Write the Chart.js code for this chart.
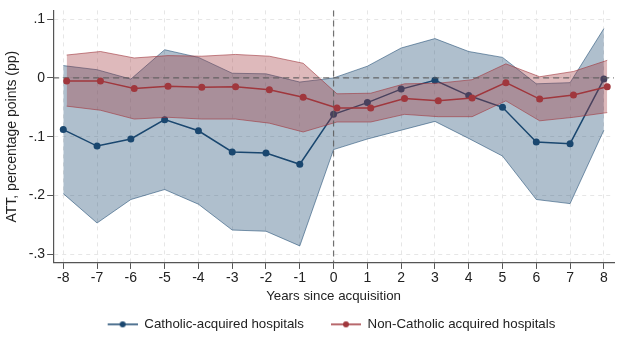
<!DOCTYPE html>
<html>
<head>
<meta charset="utf-8">
<script src="https://cdn.jsdelivr.net/npm/chart.js@4.4.1/dist/chart.umd.min.js"></script>
<style>
  html, body { margin: 0; padding: 0; background: #fff; }
  #wrap { width: 620px; height: 337px; position: relative; }
</style>
</head>
<body>
<div id="wrap"><canvas id="attChart"></canvas></div>
<script>
// years relative to acquisition
const years = [-8, -7, -6, -5, -4, -3, -2, -1, 0, 1, 2, 3, 4, 5, 6, 7, 8];

// Catholic-acquired hospitals
const cathEst  = [-0.088, -0.116, -0.104, -0.071, -0.090, -0.126, -0.128, -0.147, -0.062, -0.042, -0.019, -0.004, -0.030, -0.050, -0.109, -0.112, -0.002];
const cathHigh = [0.021, 0.014, -0.002, 0.048, 0.035, 0.008, 0.007, -0.007, 0.000, 0.020, 0.051, 0.067, 0.045, 0.035, -0.010, -0.008, 0.084];
const cathLow  = [-0.197, -0.247, -0.207, -0.190, -0.215, -0.259, -0.261, -0.286, -0.122, -0.104, -0.089, -0.074, -0.103, -0.133, -0.207, -0.214, -0.089];

// Non-Catholic acquired hospitals
const nonEst  = [-0.005, -0.005, -0.018, -0.014, -0.016, -0.015, -0.020, -0.033, -0.051, -0.051, -0.035, -0.039, -0.034, -0.008, -0.036, -0.029, -0.015];
const nonHigh = [0.039, 0.045, 0.034, 0.038, 0.037, 0.040, 0.037, 0.025, -0.027, -0.026, -0.010, -0.009, -0.003, 0.024, 0.002, 0.011, 0.030];
const nonLow  = [-0.048, -0.055, -0.070, -0.067, -0.070, -0.070, -0.077, -0.092, -0.075, -0.075, -0.062, -0.066, -0.066, -0.039, -0.073, -0.067, -0.059];

// axis ticks
const xTicks = [-8, -7, -6, -5, -4, -3, -2, -1, 0, 1, 2, 3, 4, 5, 6, 7, 8];
const yTicks = [-0.3, -0.2, -0.1, 0, 0.1];
const yTickLabels = ['-.3', '-.2', '-.1', '0', '.1'];

const NAVY = '#1a476f';
const MAROON = '#a0373d';
const RED_SHIFT = 0.1; // non-Catholic series is nudged right a bit

const pts = (vals, shift) => vals.map((v, i) => ({ x: years[i] + shift, y: v }));

// small line+dot sample for the legend (blank lead-in acts as item gap)
function legendSymbol(color) {
    const c = document.createElement('canvas');
    c.width = 51; c.height = 10;
    const g = c.getContext('2d');
    g.strokeStyle = color; g.lineWidth = 1.5;
    g.beginPath(); g.moveTo(21, 5); g.lineTo(51, 5); g.stroke();
    g.fillStyle = color;
    g.beginPath(); g.arc(36, 5, 3, 0, Math.PI * 2); g.fill();
    return c;
}

// dashed reference lines at x=0 and y=0
const refLines = {
    id: 'refLines',
    beforeDatasetDraw(chart, args) {
        if (args.index !== 3) return;
        const { ctx, chartArea, scales } = chart;
        const y0 = scales.y.getPixelForValue(0);
        const x0 = scales.x.getPixelForValue(0);
        ctx.save();
        ctx.strokeStyle = 'rgba(90,90,90,0.85)';
        ctx.lineWidth = 1.2;
        ctx.setLineDash([6, 4]);
        ctx.beginPath();
        ctx.moveTo(chartArea.left, y0); ctx.lineTo(chartArea.right, y0);
        ctx.moveTo(x0, chartArea.top); ctx.lineTo(x0, chartArea.bottom);
        ctx.stroke();
        ctx.restore();
    }
};

// legend sits a little right of centre and closer to the bottom edge in the original
const legendNudge = {
    id: 'legendNudge',
    afterLayout(chart) {
        const lg = chart.legend;
        if (!lg) return;
        lg.left += 12; lg.right += 12;
        lg.top += 7; lg.bottom += 7;
    }
};

const gridOpts = {
    color: '#e6e6e6', tickLength: 6,
    tickColor: '#555', tickBorderDash: []
};

const ctx = document.getElementById('attChart').getContext('2d');
new Chart(ctx, {
    type: 'line',
    data: {
        datasets: [
            {
                label: 'Catholic-acquired hospitals',
                data: pts(cathEst, 0),
                borderColor: NAVY, backgroundColor: NAVY,
                borderWidth: 1.5, pointRadius: 3.5, pointBorderWidth: 0,
                order: 2
            },
            {
                label: 'cathHigh',
                data: pts(cathHigh, 0),
                borderColor: 'rgba(26,71,111,0.55)', borderWidth: 1,
                pointRadius: 0,
                backgroundColor: 'rgba(26,71,111,0.35)',
                fill: 2,
                order: 3
            },
            {
                label: 'cathLow',
                data: pts(cathLow, 0),
                borderColor: 'rgba(26,71,111,0.55)', borderWidth: 1,
                pointRadius: 0, fill: false,
                order: 3
            },
            {
                label: 'Non-Catholic acquired hospitals',
                data: pts(nonEst, RED_SHIFT),
                borderColor: MAROON, backgroundColor: MAROON,
                borderWidth: 1.5, pointRadius: 3.5, pointBorderWidth: 0,
                order: 0
            },
            {
                label: 'nonHigh',
                data: pts(nonHigh, RED_SHIFT),
                borderColor: 'rgba(160,55,61,0.6)', borderWidth: 1,
                pointRadius: 0,
                backgroundColor: 'rgba(160,55,61,0.35)',
                fill: 5,
                order: 1
            },
            {
                label: 'nonLow',
                data: pts(nonLow, RED_SHIFT),
                borderColor: 'rgba(160,55,61,0.6)', borderWidth: 1,
                pointRadius: 0, fill: false,
                order: 1
            }
        ]
    },
    options: {
        responsive: true,
        maintainAspectRatio: false,
        animation: false,
        layout: { padding: { left: 4, right: 6, top: 7, bottom: 3 } },
        font: { family: 'Helvetica, Arial, "Liberation Sans", sans-serif', size: 14 },
        scales: {
            x: {
                type: 'linear',
                min: -8.3, max: 8.3,
                afterBuildTicks: axis => { axis.ticks = xTicks.map(v => ({ value: v })); },
                ticks: { color: '#222', padding: 1, maxRotation: 0, font: { size: 14 } },
                grid: gridOpts,
                border: { color: '#555', width: 1.2, dash: [4, 4] },
                title: {
                    display: true, text: 'Years since acquisition', color: '#222',
                    font: { size: 13.3 }, padding: { top: 1, bottom: 0 }
                }
            },
            y: {
                min: -0.315, max: 0.115,
                afterBuildTicks: axis => { axis.ticks = yTicks.map(v => ({ value: v })); },
                ticks: {
                    color: '#222', padding: 2, font: { size: 14 },
                    callback: v => yTickLabels[yTicks.findIndex(t => Math.abs(t - v) < 1e-9)]
                },
                grid: gridOpts,
                border: { color: '#555', width: 1.2, dash: [4, 4] },
                title: {
                    display: true, text: 'ATT, percentage points (pp)', color: '#222',
                    font: { size: 14 }, padding: { top: 0, bottom: 6 }
                }
            }
        },
        plugins: {
            tooltip: { enabled: false },
            legend: {
                position: 'bottom',
                labels: {
                    color: '#222',
                    font: { size: 13.3 },
                    usePointStyle: true,
                    pointStyleWidth: 51,
                    padding: 6,
                    filter: item => item.datasetIndex === 0 || item.datasetIndex === 3,
                    sort: (a, b) => a.datasetIndex - b.datasetIndex,
                    generateLabels: chart => {
                        const items = Chart.defaults.plugins.legend.labels.generateLabels(chart);
                        items.forEach(it => {
                            it.pointStyle = legendSymbol(it.datasetIndex === 0 ? NAVY : MAROON);
                        });
                        return items;
                    }
                }
            }
        }
    },
    plugins: [refLines, legendNudge]
});
</script>
</body>
</html>
